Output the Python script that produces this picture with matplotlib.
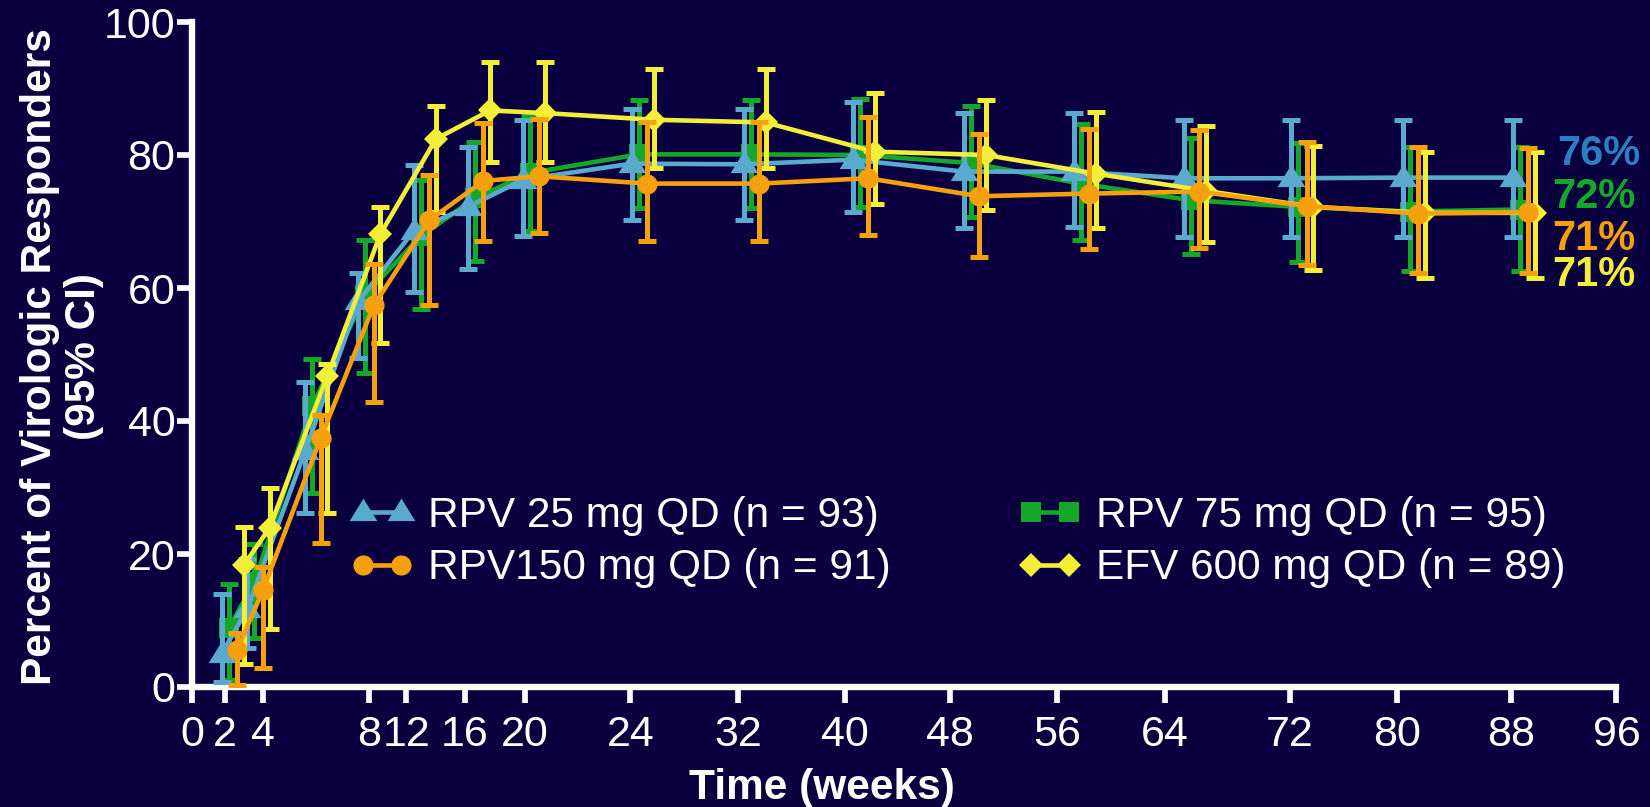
import numpy as np
import matplotlib
matplotlib.use('Agg')
import matplotlib.pyplot as plt
import matplotlib.transforms as mtransforms
from matplotlib.lines import Line2D

plt.rcParams['font.family'] = ['Liberation Sans', 'DejaVu Sans']

# ---------------- data ----------------
x_ticks = [0, 2, 4, 8, 12, 16, 20, 24, 32, 40, 48, 56, 64, 72, 80, 88, 96]
y_ticks = [0, 20, 40, 60, 80, 100]
visit_weeks = [1.8, 3.2, 5.6, 7.6, 12.5, 16.2, 19.9, 24.1, 32.4, 40.6, 49.0, 57.2, 65.2, 72.1, 80.4, 88.1]

rpv25 = [5.0, 11.8, 35.5, 58.0, 68.6, 72.2, 76.3, 78.7, 78.6, 79.3, 77.5, 77.5, 76.5, 76.5, 76.6, 76.6]
rpv25_lo = [0.8, 5.8, 26.2, 49.5, 59.4, 62.9, 67.8, 70.3, 70.3, 71.4, 69.0, 69.2, 67.7, 67.7, 67.7, 67.7]
rpv25_hi = [14.0, 19.3, 45.9, 62.2, 78.5, 81.2, 85.3, 86.9, 86.9, 87.9, 86.3, 86.3, 85.2, 85.2, 85.2, 85.3]

rpv75 = [8.8, 15.8, 42.2, 59.0, 67.8, 73.5, 77.3, 80.1, 80.1, 80.0, 78.8, 75.7, 73.2, 72.2, 71.5, 71.8]
rpv75_lo = [1.0, 7.3, 29.2, 47.2, 56.9, 64.0, 68.5, 72.0, 72.0, 72.2, 70.7, 67.2, 65.1, 63.9, 62.6, 62.6]
rpv75_hi = [15.5, 21.5, 49.3, 67.2, 76.2, 82.0, 86.0, 88.3, 88.3, 88.4, 87.4, 84.7, 82.5, 81.8, 81.2, 81.2]

rpv150 = [5.6, 14.6, 37.4, 57.4, 70.2, 76.1, 76.8, 75.7, 75.7, 76.5, 73.8, 74.2, 74.5, 72.3, 71.2, 71.4]
rpv150_lo = [0.3, 2.8, 21.6, 42.8, 57.5, 67.0, 68.2, 67.0, 67.0, 67.9, 64.7, 65.9, 66.0, 63.4, 62.2, 62.2]
rpv150_hi = [8.1, 18.1, 40.9, 63.6, 77.0, 84.8, 85.4, 84.9, 84.9, 85.7, 83.2, 83.9, 83.7, 82.0, 81.2, 81.1]

efv600 = [18.3, 23.9, 46.7, 68.1, 82.4, 86.7, 86.3, 85.3, 84.9, 80.5, 80.0, 77.2, 74.6, 72.2, 71.3, 71.3]
efv600_lo = [3.5, 8.7, 26.1, 51.8, 71.5, 78.9, 78.9, 78.1, 78.1, 72.7, 71.7, 69.0, 66.9, 62.7, 61.5, 61.5]
efv600_hi = [24.0, 30.0, 48.5, 72.2, 87.3, 94.0, 94.0, 92.9, 92.9, 89.3, 88.3, 86.5, 84.4, 81.4, 80.4, 80.4]

series_labels = ['RPV 25 mg QD (n = 93)', 'RPV 75 mg QD (n = 95)',
                 'RPV150 mg QD (n = 91)', 'EFV 600 mg QD (n = 89)']
end_labels = ['76%', '72%', '71%', '71%']   # blue, green, orange, yellow

# ---------------- layout / style ----------------
W, H, DPI = 1650, 807, 100
BG = '#0B003F'
C_BLUE, C_GREEN, C_ORANGE, C_YELLOW = '#5AAACF', '#14A82B', '#F5A00C', '#F3EF38'
C_LBLUE = '#2B7EC0'

# hand-drawn (non-uniform) x axis: pixel position of each tick
tick_pos_px = [192, 225, 262.5, 369, 406.5, 465, 525, 630.5, 738.2, 844.7,
               950.4, 1057.5, 1165.2, 1290.0, 1397.1, 1511.4, 1616.5]

fig = plt.figure(figsize=(W / DPI, H / DPI), dpi=DPI, facecolor=BG)
ax_left, ax_right, ax_top, ax_bot = 192, 1616.5, 22, 687
ax = fig.add_axes([ax_left / W, 1 - ax_bot / H, (ax_right - ax_left) / W, (ax_bot - ax_top) / H])
ax.set_facecolor(BG)


def fwd(w):
    return np.interp(w, x_ticks, tick_pos_px)


def inv(p):
    return np.interp(p, tick_pos_px, x_ticks)


ax.set_xscale('function', functions=(fwd, inv))
ax.set_xlim(0, 96)
ax.set_ylim(0, 100)

tri = [(-1, -0.62), (1, -0.62), (0, 1.0), (-1, -0.62)]

specs = [
    # vals, lo, hi, color, marker, ms, dodge(px), zorder
    (rpv75, rpv75_lo, rpv75_hi, C_GREEN, 's', 14, 7, 3),
    (rpv25, rpv25_lo, rpv25_hi, C_BLUE, tri, 20, 0, 4),
    (efv600, efv600_lo, efv600_hi, C_YELLOW, 'D', 12, 22, 5),
    (rpv150, rpv150_lo, rpv150_hi, C_ORANGE, 'o', 14.5, 15.5, 6),
]

for vals, lo, hi, col, mk, ms, dx, z in specs:
    v = np.asarray(vals)
    err = [v - np.asarray(lo), np.asarray(hi) - v]
    trans = ax.transData + mtransforms.ScaledTranslation(dx / DPI, 0, fig.dpi_scale_trans)
    cont = ax.errorbar(visit_weeks, v, yerr=err, fmt='-', color=col, lw=3.3,
                       marker=mk, ms=ms, mfc=col, mec=col, ecolor=col,
                       elinewidth=3.6, capsize=6.5, capthick=3.6,
                       transform=trans, zorder=z, clip_on=False)
    data_line, caplines, barcols = cont.lines
    data_line.set_markeredgewidth(0)
    for cl in caplines:
        cl.set_markeredgewidth(3.6)
        cl.set_markeredgecolor(col)

# axes styling
for s in ['top', 'right']:
    ax.spines[s].set_visible(False)
for s in ['left', 'bottom']:
    ax.spines[s].set_color('white')
    ax.spines[s].set_linewidth(4.6)
    ax.spines[s].set_zorder(2.5)
ax.set_xticks(x_ticks)
ax.set_xticklabels([str(t) for t in x_ticks])
ax.set_yticks(y_ticks)
ax.set_yticklabels([str(t) for t in y_ticks])
ax.tick_params(axis='x', colors='white', length=11.5, width=4.1, labelsize=31, pad=9, direction='out')
ax.tick_params(axis='y', colors='white', length=10.5, width=4.1, labelsize=31, pad=1.5, direction='out')

# axis titles
fig.text(822 / W, 8 / H, 'Time (weeks)', ha='center', va='baseline', fontsize=30.5,
         fontweight='bold', color='white')
fig.text(62 / W, 1 - 357 / H, 'Percent of Virologic Responders\n(95% CI)', rotation=90,
         ha='center', va='center', multialignment='center', fontsize=30.5,
         fontweight='bold', color='white', linespacing=1.15)

# legends
def handle(col, mk, ms):
    return Line2D([0], [0], color=col, lw=3.3, marker=mk, ms=ms, mew=0, mfc=col)

h25 = handle(C_BLUE, tri, 20)
h75 = handle(C_GREEN, 's', 14)
h150 = handle(C_ORANGE, 'o', 14.5)
hefv = handle(C_YELLOW, 'D', 12)

leg_kw = dict(loc='center left', bbox_transform=fig.transFigure, frameon=False,
              fontsize=30.5, handlelength=1.5, handletextpad=0.35, labelspacing=0.3,
              borderpad=0, borderaxespad=0, numpoints=2, labelcolor='white')
leg1 = ax.legend([h25, h150], [series_labels[0], series_labels[2]],
                 bbox_to_anchor=(350 / W, 1 - 542 / H), **leg_kw)
ax.add_artist(leg1)
leg2 = ax.legend([h75, hefv], [series_labels[1], series_labels[3]],
                 bbox_to_anchor=(1018 / W, 1 - 542 / H), **leg_kw)

# end-of-line labels
end_cols = [C_LBLUE, C_GREEN, C_ORANGE, C_YELLOW]
end_x = [1557, 1552, 1552, 1552]
end_base = [165, 208, 250, 286.5]
for lab, c, x, yb in zip(end_labels, end_cols, end_x, end_base):
    fig.text(x / W, 1 - yb / H, lab, ha='left', va='baseline', fontsize=30,
             fontweight='bold', color=c)

fig.savefig('out.png', dpi=DPI, facecolor=BG)
